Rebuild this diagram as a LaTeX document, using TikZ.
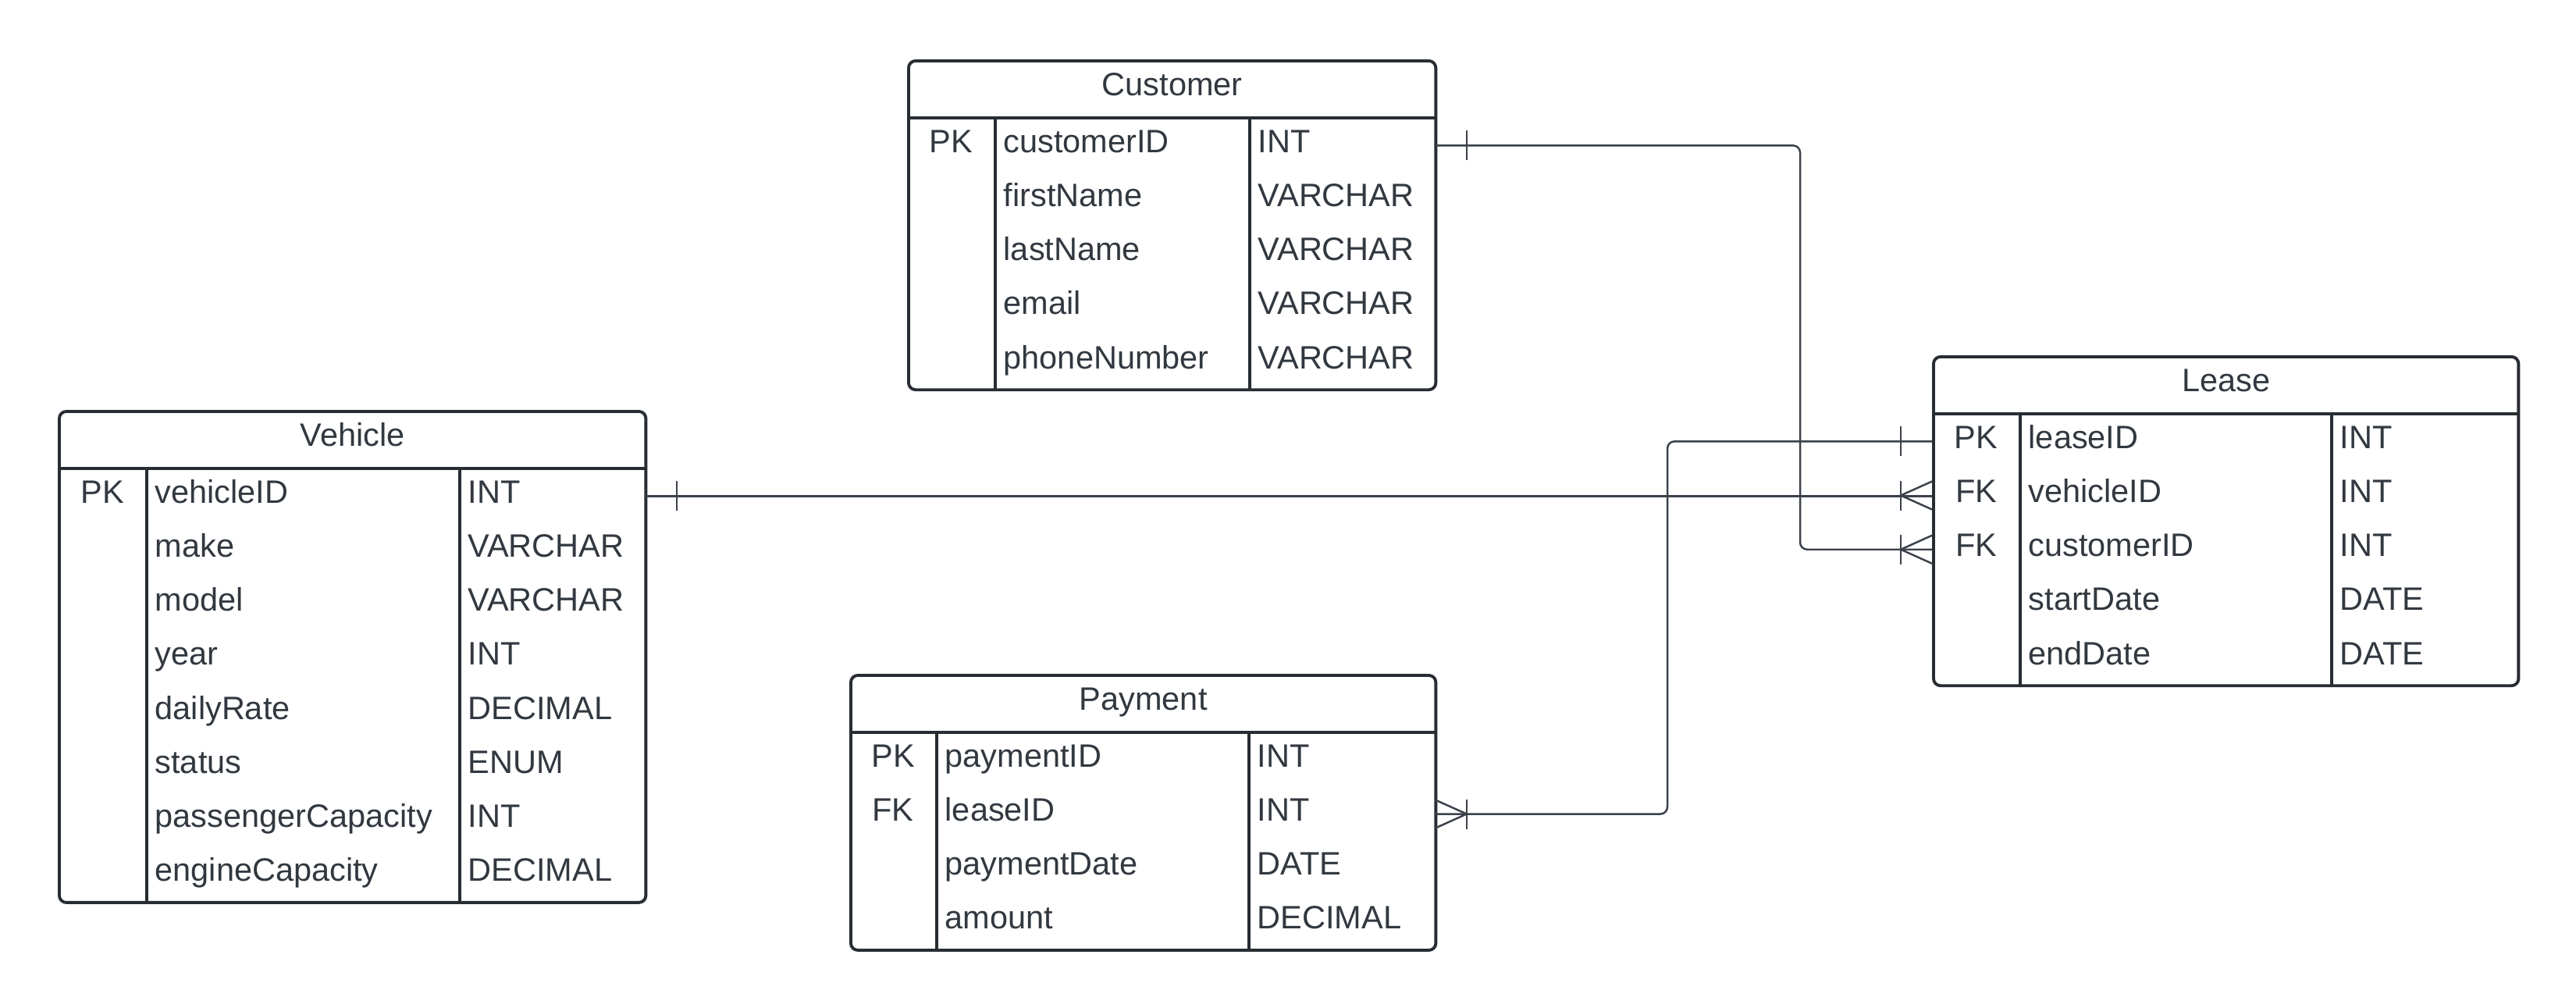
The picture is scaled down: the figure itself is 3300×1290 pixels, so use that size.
\documentclass[tikz,border=0pt]{standalone}
\usepackage{fontspec}
\setmainfont{Liberation Sans}
\usetikzlibrary{calc}
\definecolor{erborder}{RGB}{40,44,51}
\definecolor{ertext}{RGB}{50,56,64}
\definecolor{erlink}{RGB}{58,65,74}
\newcommand{\erfont}{\fontsize{11.8pt}{14pt}\selectfont}
\tikzset{
  tblframe/.style={draw=erborder, line width=1.1pt, rounded corners=0.09cm, inner sep=0pt, anchor=north west},
  tblrule/.style={draw=erborder, line width=1.1pt},
  tblrow/.style={inner sep=0pt, minimum height=0.692cm, anchor=north west},
  tbltitle/.style={text=ertext, font=\erfont, inner sep=0pt, anchor=base},
  keycell/.style={text=ertext, font=\erfont, inner sep=0pt, anchor=base},
  fieldcell/.style={text=ertext, font=\erfont, inner sep=0pt, anchor=base west},
  typecell/.style={fieldcell},
  relline/.style={draw=erlink, line width=0.7pt, rounded corners=0.09cm},
  relmark/.style={draw=erlink, line width=0.7pt},
}

\begin{document}
\begin{tikzpicture}[x=0.01cm, y=-0.01cm]

\path[fill=white] (0,0) rectangle (3300,1290);

% Customer
\node[tblframe, minimum width=6.75cm, minimum height=4.21cm] (customer) at (1162,76) {};
\node[tbltitle] (customer-title) at ($(customer.north)+(0,46)$) {Customer};
\foreach \k/\f/\t [count=\i] in {PK/customerID/INT, {}/firstName/VARCHAR, {}/lastName/VARCHAR, {}/email/VARCHAR, {}/phoneNumber/VARCHAR} {
  \node[tblrow, minimum width=6.75cm] (customer-\i) at (1162,{151+(\i-1)*69.2}) {};
  \node[keycell] (customer-\i-key) at ($(customer-\i.west)+(56.5,9)$) {\k};
  \node[fieldcell] (customer-\i-field) at ($(customer-\i.west)+(123,9)$) {\f};
  \node[typecell] (customer-\i-type) at ($(customer-\i.west)+(449,9)$) {\t};
}
\draw[tblrule] (customer-1.north west) -- (customer-1.north east);
\draw[tblrule] ($(customer-1.north west)+(113,0)$) -- ($(customer-5.south west)+(113,0)$);
\draw[tblrule] ($(customer-1.north west)+(439,0)$) -- ($(customer-5.south west)+(439,0)$);

% Vehicle
\node[tblframe, minimum width=7.51cm, minimum height=6.286cm] (vehicle) at (74,525) {};
\node[tbltitle] (vehicle-title) at ($(vehicle.north)+(0,46)$) {Vehicle};
\foreach \k/\f/\t [count=\i] in {PK/vehicleID/INT, {}/make/VARCHAR, {}/model/VARCHAR, {}/year/INT, {}/dailyRate/DECIMAL, {}/status/ENUM, {}/passengerCapacity/INT, {}/engineCapacity/DECIMAL} {
  \node[tblrow, minimum width=7.51cm] (vehicle-\i) at (74,{600+(\i-1)*69.2}) {};
  \node[keycell] (vehicle-\i-key) at ($(vehicle-\i.west)+(57,9)$) {\k};
  \node[fieldcell] (vehicle-\i-field) at ($(vehicle-\i.west)+(124,9)$) {\f};
  \node[typecell] (vehicle-\i-type) at ($(vehicle-\i.west)+(525,9)$) {\t};
}
\draw[tblrule] (vehicle-1.north west) -- (vehicle-1.north east);
\draw[tblrule] ($(vehicle-1.north west)+(114,0)$) -- ($(vehicle-8.south west)+(114,0)$);
\draw[tblrule] ($(vehicle-1.north west)+(515,0)$) -- ($(vehicle-8.south west)+(515,0)$);

% Payment
\node[tblframe, minimum width=7.49cm, minimum height=3.518cm] (payment) at (1088,863) {};
\node[tbltitle] (payment-title) at ($(payment.north)+(0,46)$) {Payment};
\foreach \k/\f/\t [count=\i] in {PK/paymentID/INT, FK/leaseID/INT, {}/paymentDate/DATE, {}/amount/DECIMAL} {
  \node[tblrow, minimum width=7.49cm] (payment-\i) at (1088,{938+(\i-1)*69.2}) {};
  \node[keycell] (payment-\i-key) at ($(payment-\i.west)+(56,9)$) {\k};
  \node[fieldcell] (payment-\i-field) at ($(payment-\i.west)+(122,9)$) {\f};
  \node[typecell] (payment-\i-type) at ($(payment-\i.west)+(522,9)$) {\t};
}
\draw[tblrule] (payment-1.north west) -- (payment-1.north east);
\draw[tblrule] ($(payment-1.north west)+(112,0)$) -- ($(payment-4.south west)+(112,0)$);
\draw[tblrule] ($(payment-1.north west)+(512,0)$) -- ($(payment-4.south west)+(512,0)$);

% Lease
\node[tblframe, minimum width=7.49cm, minimum height=4.21cm] (lease) at (2475,455) {};
\node[tbltitle] (lease-title) at ($(lease.north)+(0,46)$) {Lease};
\foreach \k/\f/\t [count=\i] in {PK/leaseID/INT, FK/vehicleID/INT, FK/customerID/INT, {}/startDate/DATE, {}/endDate/DATE} {
  \node[tblrow, minimum width=7.49cm] (lease-\i) at (2475,{530+(\i-1)*69.2}) {};
  \node[keycell] (lease-\i-key) at ($(lease-\i.west)+(56.5,9)$) {\k};
  \node[fieldcell] (lease-\i-field) at ($(lease-\i.west)+(123,9)$) {\f};
  \node[typecell] (lease-\i-type) at ($(lease-\i.west)+(522,9)$) {\t};
}
\draw[tblrule] (lease-1.north west) -- (lease-1.north east);
\draw[tblrule] ($(lease-1.north west)+(113,0)$) -- ($(lease-5.south west)+(113,0)$);
\draw[tblrule] ($(lease-1.north west)+(512,0)$) -- ($(lease-5.south west)+(512,0)$);

% Relationships
\coordinate (custbend) at (2306,400);
\coordinate (leasebend) at (2136,800);
\draw[relline] (customer-1.east) -| (custbend) |- (lease-3.west);
\draw[relline] (vehicle-1.east) -- (vehicle-1.east -| lease-2.west);
\draw[relline] (lease-1.west) -| (leasebend) |- (payment-2.east);

% one marks
\draw[relmark] ($(customer-1.east)+(40,-19)$) -- ++(0,38);
\draw[relmark] ($(vehicle-1.east)+(40,-19)$) -- ++(0,38);
\draw[relmark] ($(lease-1.west)+(-40,-19)$) -- ++(0,38);

% many marks
\foreach \r in {lease-2, lease-3} {
  \draw[relmark] ($(\r.west)+(-40,-19)$) -- ++(0,38);
  \draw[relmark] ($(\r.west)+(0,-18)$) -- ($(\r.west)+(-40,0)$) -- ($(\r.west)+(0,18)$);
}
\draw[relmark] ($(payment-2.east)+(40,-19)$) -- ++(0,38);
\draw[relmark] ($(payment-2.east)+(0,-18)$) -- ($(payment-2.east)+(40,0)$) -- ($(payment-2.east)+(0,18)$);

\end{tikzpicture}
\end{document}
